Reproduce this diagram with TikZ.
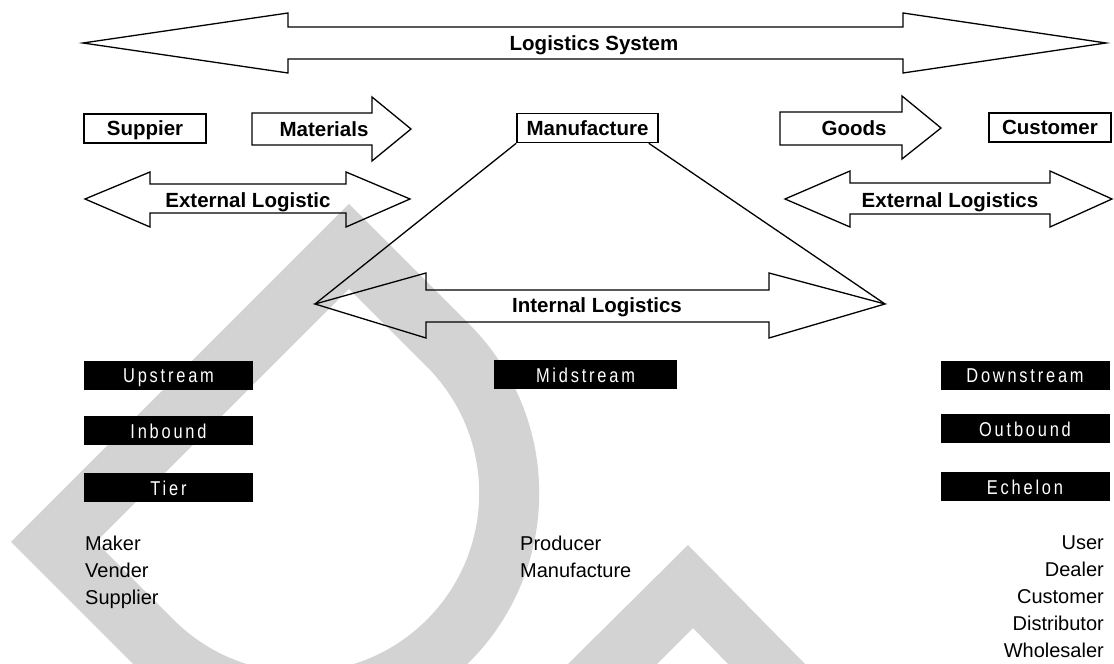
\documentclass[tikz,border=0pt]{standalone}
\usepackage{fontspec}
\setmainfont{Liberation Sans}
\newfontfamily\tagfont[FakeStretch=0.82, LetterSpace=14]{Liberation Sans}
\usetikzlibrary{positioning}

\definecolor{wmgrey}{RGB}{211,211,211}

\tikzset{
  lbl/.style = {font = \fontsize{20.5}{24}\selectfont\bfseries, inner sep = 0pt, text depth = 0pt},
  framebox/.style = {lbl, draw, line width = 1.6pt, minimum height = 29pt},
  tagbox/.style = {fill = black, text = white, minimum height = 29pt, minimum width = 169pt,
    inner sep = 0pt, text depth = 0pt, font = \tagfont\fontsize{20}{22}\selectfont},
  listtext/.style = {font = \fontsize{20}{27}\selectfont, inner sep = 0pt},
  blockarrow/.style = {draw, line width = 1.3pt, line join = miter}
}

\begin{document}
\begin{tikzpicture}[x = 1pt, y = 1pt]
\useasboundingbox (0, 0) rectangle (1114, 664);

\begin{scope}
\clip (0, 0) rectangle (1114, 664);
\fill[wmgrey, even odd rule, shift = {(11, 122)}, rotate = -45]
  (0, 0) -- (0, 478) -- (170, 478) arc[start angle = 90, end angle = -90, radius = 239] -- cycle
  (60, 60) -- (60, 418) -- (170, 418) arc[start angle = 90, end angle = -90, radius = 179] -- cycle;
\fill[wmgrey] (568, 0) -- (688, 119) -- (805, 0) -- (728, 0) -- (693, 36) -- (657, 0) -- cycle;
\end{scope}

\draw[blockarrow] (83, 621) -- (288, 651) -- (288, 637) -- (903, 637) -- (903, 651) -- (1106, 621)
  -- (903, 591) -- (903, 605) -- (288, 605) -- (288, 591) -- cycle;
\node[lbl] (system) at (594, 621) {Logistics System};

\node[framebox, minimum width = 122pt] (supp) at (145, 535.5) {Suppier};
\draw[blockarrow] (252, 551) -- (372, 551) -- (372, 567) -- (411, 535) -- (372, 503) -- (372, 519) -- (252, 519) -- cycle;
\node[lbl] (mat) at (324, 535) {Materials};
\node[framebox, minimum width = 141pt] (mfg) at (587.5, 536) {Manufacture};
\draw[blockarrow] (780, 552) -- (902, 552) -- (902, 568) -- (941, 536) -- (902, 505) -- (902, 519) -- (780, 519) -- cycle;
\node[lbl] (goods) at (854, 536) {Goods};
\node[framebox, minimum width = 122pt] (cust) at (1050, 536.5) {Customer};

\draw[blockarrow] (85, 465) -- (150, 492) -- (150, 480) -- (346, 480) -- (346, 492) -- (410, 465)
  -- (346, 437) -- (346, 451) -- (150, 451) -- (150, 437) -- cycle;
\node[lbl] (extin) at (248, 464) {External Logistic};
\draw[blockarrow] (785, 465) -- (850, 493) -- (850, 481) -- (1050, 481) -- (1050, 493) -- (1112, 465)
  -- (1050, 437) -- (1050, 450) -- (850, 450) -- (850, 437) -- cycle;
\node[lbl] (extout) at (950, 464) {External Logistics};

\coordinate (inL) at (315, 360);
\coordinate (inR) at (885, 360);
\draw[blockarrow] (inL) -- (426, 391) -- (426, 374) -- (769, 374) -- (769, 391) -- (inR)
  -- (769, 326) -- (769, 342) -- (426, 342) -- (426, 326) -- cycle;
\node[lbl] (intern) at (597, 359) {Internal Logistics};
\draw[line width = 1.3pt] (mfg.south west) -- (inL);
\draw[line width = 1.3pt] ([xshift = -10pt]mfg.south east) -- (inR);

\node[tagbox] (up) at (168.5, 288) {Upstream};
\node[tagbox] (inb) at (168.5, 233) {Inbound};
\node[tagbox] (tier) at (168.5, 176) {Tier};
\node[tagbox, minimum width = 183pt] (mid) at (585.5, 289) {Midstream};
\node[tagbox] (down) at (1025, 288) {Downstream};
\node[tagbox] (outb) at (1025, 235) {Outbound};
\node[tagbox] (ech) at (1025, 177) {Echelon};

\node[listtext, anchor = north west, align = left] (makers) at (85, 128) {Maker\\Vender\\Supplier};
\node[listtext, anchor = north west, align = left] (producers) at (520, 128) {Producer\\Manufacture};
\node[listtext, anchor = north east, align = right] (users) at (1104, 128) {User\\Dealer\\Customer\\Distributor\\Wholesaler};
\end{tikzpicture}
\end{document}
